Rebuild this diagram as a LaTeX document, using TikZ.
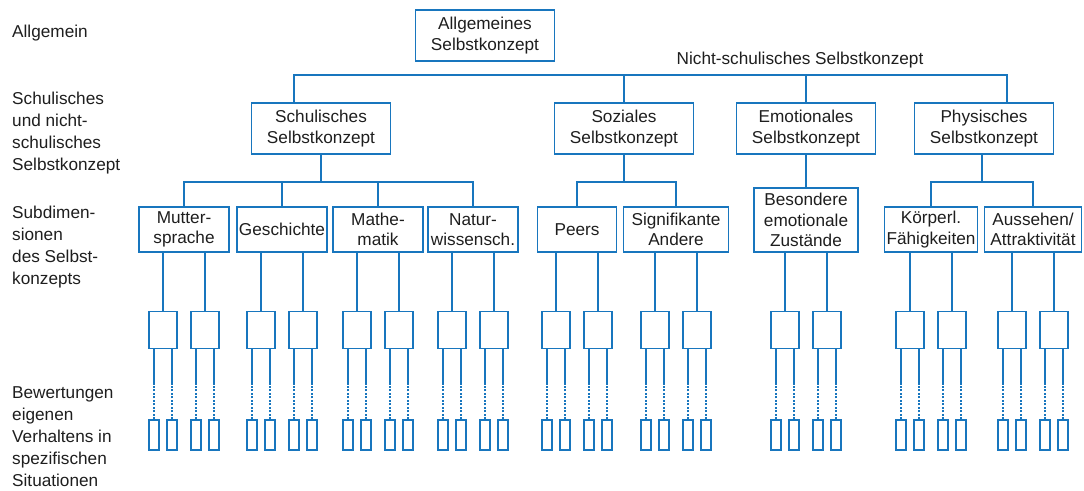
\documentclass[tikz,border=0pt]{standalone}
\usepackage{fontspec}
\setmainfont{Liberation Sans}
\usetikzlibrary{positioning}
\definecolor{linkblue}{RGB}{24,118,190}
\definecolor{inkgray}{RGB}{30,30,30}
\tikzstyle{selfbox} = [rectangle, inner sep=0pt, text centered, align=center, draw=linkblue, line width=1.6pt, text=inkgray, font=\fontsize{17.2}{20.5}\selectfont]
\tikzstyle{mainbox} = [selfbox, minimum width=139pt, minimum height=51pt]
\tikzstyle{subbox} = [selfbox, minimum height=45pt]
\tikzstyle{itembox} = [selfbox, minimum width=28pt, minimum height=37pt]
\tikzstyle{evalbox} = [selfbox, minimum width=10pt, minimum height=30pt]
\tikzstyle{levellabel} = [anchor=west, align=left, inner sep=0pt, text=inkgray, font=\fontsize{17.2}{22}\selectfont]
\tikzstyle{link} = [draw=linkblue, line width=1.6pt]
\tikzstyle{dotlink} = [link, dash pattern=on 2pt off 1.5pt]

\begin{document}
\begin{tikzpicture}[x=1pt, y=-1pt]
\useasboundingbox (0,0) rectangle (1084,490);

% Left column - names of the levels
\node[levellabel] (lblAllg) at (12,33) {Allgemein};
\node[levellabel] (lblSchul) at (12,133) {Schulisches\\und nicht-\\schulisches\\Selbstkonzept};
\node[levellabel] (lblSub) at (12,247) {Subdimen-\\sionen\\des Selbst-\\konzepts};
\node[levellabel] (lblBew) at (12,437) {Bewertungen\\eigenen\\Verhaltens in\\spezifischen\\Situationen};

% Level 1 - general self-concept
\node[mainbox] (allg) at (485,35.5) {Allgemeines\\Selbstkonzept};
\node[levellabel, anchor=center] (nichtschul) at (800,60) {Nicht-schulisches Selbstkonzept};

% Level 2 - school and non-school self-concept
\node[mainbox] (schul) at (321,128.5) {Schulisches\\Selbstkonzept};
\node[mainbox] (sozial) at (624,128.5) {Soziales\\Selbstkonzept};
\node[mainbox] (emot) at (806,128.5) {Emotionales\\Selbstkonzept};
\node[mainbox] (phys) at (984,128.5) {Physisches\\Selbstkonzept};

% Level 3 - subdimensions
\node[subbox, minimum width=90pt] (mutter) at (184,229.5) {Mutter-\\sprache};
\node[subbox, minimum width=90pt] (gesch) at (282,229.5) {Geschichte};
\node[subbox, minimum width=90pt] (mathe) at (378,229.5) {Mathe-\\matik};
\node[subbox, minimum width=90pt] (natur) at (473,229.5) {Natur-\\wissensch.};
\node[subbox, minimum width=79pt] (peers) at (577,229.5) {Peers};
\node[subbox, minimum width=105pt] (signif) at (676,229.5) {Signifikante\\Andere};
\node[subbox, minimum width=104pt, minimum height=64pt] (besond) at (806,220) {Besondere\\emotionale\\Zustände};
\node[subbox, minimum width=93pt] (koerper) at (931,229.5) {Körperl.\\Fähigkeiten};
\node[subbox, minimum width=97pt] (aussehen) at (1033,229.5) {Aussehen/\\Attraktivität};

% Level 2 - lines
\coordinate (busL) at (294,75);
\coordinate (busR) at (1007,75);
\draw [link] (schul.north -| busL) -- (busL) -- (busR) -- (phys.north -| busR);
\draw [link] (sozial.north) -- (sozial.north |- busL);
\draw [link] (emot.north) -- (emot.north |- busL);

% Level 3 - lines
\coordinate (schulBus) at (321,182);
\draw [link] (schul.south) -- (schulBus);
\draw [link] (mutter.north) |- (schulBus) -| (natur.north);
\draw [link] (gesch.north) -- (gesch.north |- schulBus);
\draw [link] (mathe.north) -- (mathe.north |- schulBus);
\coordinate (sozBus) at (624,182);
\draw [link] (sozial.south) -- (sozBus);
\draw [link] (peers.north) |- (sozBus) -| (signif.north);
\draw [link] (emot.south) -- (besond.north);
\coordinate (physBus) at (982,182);
\draw [link] (phys.south -| physBus) -- (physBus);
\draw [link] (koerper.north) |- (physBus) -| (aussehen.north);

% Level 4 - evaluations of own behaviour
\foreach \n in {mutter,gesch,mathe,natur,peers,signif,besond,koerper,aussehen} {
  \foreach \s/\k in {-21/a,21/b} {
    \node[itembox, below=58pt of \n.south, xshift=\s pt] (\n\k) {};
    \draw [link] (\n\k.north) -- (\n\k.north |- \n.south);
    \foreach \t/\m in {-9/l,9/r} {
      \node[evalbox, below=70pt of \n\k.south, xshift=\t pt] (\n\k\m) {};
      \draw [link] (\n\k.south -| \n\k\m) -- ++(0,36);
      \draw [dotlink] (\n\k\m.north) -- ++(0,-34);
    }
  }
}

\end{tikzpicture}
\end{document}
